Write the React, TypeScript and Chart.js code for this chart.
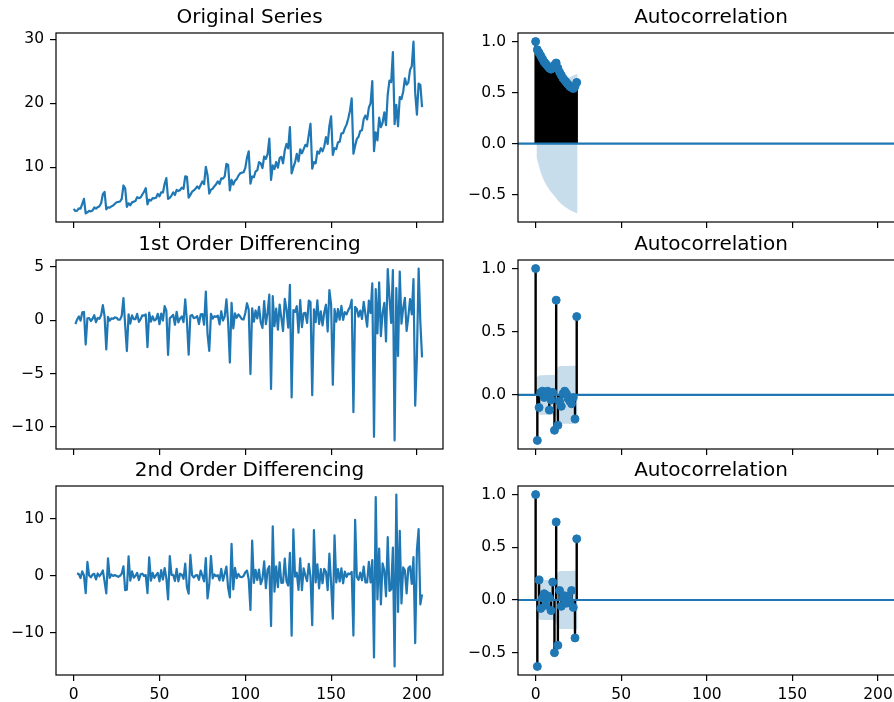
import React, { useEffect, useRef } from "react";
import { Chart, registerables } from "chart.js";

Chart.register(...registerables);

// ---------------- data ----------------
const originalSeries = [
  3.53, 3.18, 3.25, 3.61, 3.57, 4.31, 5.09, 2.81, 2.99, 3.2, 3.13, 3.27,
  3.74, 3.56, 3.78, 3.92, 4.39, 5.81, 6.19, 3.45, 3.77, 3.73, 3.91, 4.05,
  4.32, 4.56, 4.61, 4.67, 5.09, 7.18, 6.73, 3.84, 4.39, 4.08, 4.54, 4.65,
  4.75, 5.35, 5.2, 5.3, 5.77, 6.2, 6.75, 4.22, 4.95, 4.82, 5.19, 5.17,
  5.26, 5.86, 5.49, 6.12, 6.09, 7.42, 8.33, 5.07, 5.26, 5.6, 6.11, 5.69,
  6.49, 6.3, 6.47, 6.83, 6.65, 8.61, 8.52, 5.28, 5.71, 6.21, 6.41, 6.67,
  7.05, 6.7, 7.25, 7.82, 7.4, 10.1, 8.8, 5.92, 6.53, 6.68, 7.06, 7.38,
  7.81, 7.43, 8.28, 8.26, 8.6, 10.56, 10.39, 6.42, 8.06, 7.3, 7.94, 8.17,
  8.72, 9.07, 9.18, 9.25, 9.93, 11.53, 12.51, 7.46, 8.59, 8.47, 9.39, 9.56,
  10.83, 10.64, 9.91, 11.71, 11.34, 12.08, 14.5, 8.05, 10.31, 9.75, 10.85, 9.96,
  11.44, 11.66, 10.65, 12.65, 13.67, 12.97, 16.3, 9.05, 10.0, 10.79, 12.11, 10.95,
  12.84, 12.2, 12.85, 13.54, 13.29, 15.13, 16.83, 9.8, 10.82, 10.65, 12.51, 12.16,
  13.0, 12.52, 13.27, 14.73, 13.67, 16.5, 18.0, 11.94, 13.0, 12.88, 13.94, 13.99,
  15.34, 15.37, 16.14, 16.69, 17.64, 18.87, 20.78, 12.15, 13.4, 14.46, 14.8, 15.71,
  15.83, 17.55, 18.1, 17.5, 19.35, 20.03, 23.49, 12.54, 15.47, 14.23, 17.78, 16.29,
  16.98, 18.61, 16.62, 21.43, 23.58, 23.33, 28.04, 16.76, 19.79, 16.43, 21.0, 20.68,
  21.83, 23.93, 22.93, 23.26, 25.25, 25.81, 29.67, 21.65, 18.26, 23.11, 22.91, 19.43,
];

const firstDiff = [
  -0.35, 0.07, 0.36, -0.04, 0.74, 0.78, -2.28, 0.18, 0.21, -0.07, 0.14, 0.47,
  -0.18, 0.22, 0.14, 0.47, 1.42, 0.38, -2.74, 0.32, -0.04, 0.18, 0.14, 0.27,
  0.24, 0.05, 0.06, 0.42, 2.09, -0.45, -2.89, 0.55, -0.31, 0.46, 0.11, 0.1,
  0.6, -0.15, 0.1, 0.47, 0.43, 0.55, -2.53, 0.73, -0.13, 0.37, -0.02, 0.09,
  0.6, -0.37, 0.63, -0.03, 1.33, 0.91, -3.26, 0.19, 0.34, 0.51, -0.42, 0.8,
  -0.19, 0.17, 0.36, -0.18, 1.96, -0.09, -3.24, 0.43, 0.5, 0.2, 0.26, 0.38,
  -0.35, 0.55, 0.57, -0.42, 2.7, -1.3, -2.88, 0.61, 0.15, 0.38, 0.32, 0.43,
  -0.38, 0.85, -0.02, 0.34, 1.96, -0.17, -3.97, 1.64, -0.76, 0.64, 0.23, 0.55,
  0.35, 0.11, 0.07, 0.68, 1.6, 0.98, -5.05, 1.13, -0.12, 0.92, 0.17, 1.27,
  -0.19, -0.73, 1.8, -0.37, 0.74, 2.42, -6.45, 2.26, -0.56, 1.1, -0.89, 1.48,
  0.22, -1.01, 2.0, 1.02, -0.7, 3.33, -7.25, 0.95, 0.79, 1.32, -1.16, 1.89,
  -0.64, 0.65, 0.69, -0.25, 1.84, 1.7, -7.03, 1.02, -0.17, 1.86, -0.35, 0.84,
  -0.48, 0.75, 1.46, -1.06, 2.83, 1.5, -6.06, 1.06, -0.12, 1.06, 0.05, 1.35,
  0.03, 0.77, 0.55, 0.95, 1.23, 1.91, -8.63, 1.25, 1.06, 0.34, 0.91, 0.12,
  1.72, 0.55, -0.6, 1.85, 0.68, 3.46, -10.95, 2.93, -1.24, 3.55, -1.49, 0.69,
  1.63, -1.99, 4.81, 2.15, -0.25, 4.71, -11.28, 3.03, -3.36, 4.57, -0.32, 1.15,
  2.1, -1.0, 0.33, 1.99, 0.56, 3.86, -8.02, -3.39, 4.85, -0.2, -3.48,
];

const secondDiff = [
  0.42, 0.29, -0.4, 0.78, 0.04, -3.06, 2.46, 0.03, -0.28, 0.21, 0.33, -0.65,
  0.4, -0.08, 0.33, 0.95, -1.04, -3.12, 3.06, -0.36, 0.22, -0.04, 0.13, -0.03,
  -0.19, 0.01, 0.36, 1.67, -2.54, -2.44, 3.44, -0.86, 0.77, -0.35, -0.01, 0.5,
  -0.75, 0.25, 0.37, -0.04, 0.12, -3.08, 3.26, -0.86, 0.5, -0.39, 0.11, 0.51,
  -0.97, 1.0, -0.66, 1.36, -0.42, -4.17, 3.45, 0.15, 0.17, -0.93, 1.22, -0.99,
  0.36, 0.19, -0.54, 2.14, -2.05, -3.15, 3.67, 0.07, -0.3, 0.06, 0.12, -0.73,
  0.9, 0.02, -0.99, 3.12, -4.0, -1.58, 3.49, -0.46, 0.23, -0.06, 0.11, -0.81,
  1.23, -0.87, 0.36, 1.62, -2.13, -3.8, 5.61, -2.4, 1.4, -0.41, 0.32, -0.2,
  -0.24, -0.04, 0.61, 0.92, -0.62, -6.03, 6.18, -1.25, 1.04, -0.75, 1.1, -1.46,
  -0.54, 2.53, -2.17, 1.11, 1.68, -8.87, 8.71, -2.82, 1.66, -1.99, 2.37, -1.26,
  -1.23, 3.01, -0.98, -1.72, 4.03, -10.58, 8.2, -0.16, 0.53, -2.48, 3.05, -2.53,
  1.29, 0.04, -0.94, 2.09, -0.14, -8.73, 8.05, -1.19, 2.03, -2.21, 1.19, -1.32,
  1.23, 0.71, -2.52, 3.89, -1.33, -7.56, 7.12, -1.18, 1.18, -1.01, 1.3, -1.32,
  0.74, -0.22, 0.4, 0.28, 0.68, -10.54, 9.88, -0.19, -0.72, 0.57, -0.79, 1.6,
  -1.17, -1.15, 2.45, -1.17, 2.78, -14.41, 13.88, -4.17, 4.79, -5.04, 2.18, 0.94,
  -3.62, 6.8, -2.66, -2.4, 4.96, -15.99, 14.31, -6.39, 7.93, -4.89, 1.47, 0.95,
  -3.1, 1.33, 1.66, -1.43, 3.3, -11.88, 4.63, 8.24, -5.05, -3.28,
];

// index at which each series starts (pandas index kept after differencing)
const originalStart = 0;
const firstDiffStart = 1;
const secondDiffStart = 2;

const acfLags = [0, 1, 2, 3, 4, 5, 6, 7, 8, 9, 10, 11, 12, 13, 14, 15, 16, 17, 18, 19, 20, 21, 22, 23, 24];

const acfOriginal = [
  1.0, 0.92, 0.89, 0.86, 0.83, 0.8, 0.78, 0.76, 0.74, 0.73, 0.74, 0.77, 0.79,
  0.74, 0.7, 0.67, 0.64, 0.62, 0.6, 0.58, 0.56, 0.55, 0.54, 0.56, 0.6,
];
const acfFirstDiff = [
  1.0, -0.36, -0.1, 0.02, 0.03, -0.02, 0.01, 0.03, -0.12, -0.04, 0.02, -0.28, 0.75,
  -0.24, -0.05, -0.09, 0.01, 0.03, 0.01, -0.03, -0.05, -0.07, -0.02, -0.19, 0.62,
];
const acfSecondDiff = [
  1.0, -0.63, 0.19, -0.08, 0.02, 0.06, -0.05, 0.04, 0.02, -0.1, 0.17, -0.5, 0.74,
  -0.43, 0.09, -0.06, 0.02, 0.04, -0.03, 0.03, -0.02, 0.09, -0.07, -0.36, 0.58,
];

// half-width of the 95% confidence band for lags 1..24
const confOriginal = [
  0.137, 0.225, 0.284, 0.329, 0.367, 0.398, 0.426, 0.451, 0.473, 0.494, 0.514, 0.536,
  0.557, 0.575, 0.591, 0.605, 0.618, 0.629, 0.64, 0.65, 0.659, 0.668, 0.676, 0.684,
];
const confFirstDiff = [
  0.138, 0.154, 0.156, 0.156, 0.156, 0.157, 0.157, 0.157, 0.158, 0.158, 0.158, 0.167,
  0.222, 0.227, 0.228, 0.229, 0.229, 0.229, 0.229, 0.23, 0.23, 0.231, 0.231, 0.233,
];
const confSecondDiff = [
  0.138, 0.185, 0.188, 0.189, 0.189, 0.19, 0.19, 0.19, 0.19, 0.191, 0.194, 0.217,
  0.261, 0.274, 0.275, 0.275, 0.275, 0.276, 0.276, 0.276, 0.276, 0.277, 0.278, 0.283,
];

const xTicks = [0, 50, 100, 150, 200];
const yTicksOriginal = [10, 20, 30];
const yTicksFirstDiff = [-10, -5, 0, 5];
const yTicksSecondDiff = [-10, 0, 10];
const yTicksAcfOriginal = [-0.5, 0, 0.5, 1];
const yTicksAcfFirstDiff = [0, 0.5, 1];
const yTicksAcfSecondDiff = [-0.5, 0, 0.5, 1];

const titles = [
  "Original Series",
  "Autocorrelation",
  "1st Order Differencing",
  "Autocorrelation",
  "2nd Order Differencing",
  "Autocorrelation",
];

// ---------------- layout / style ----------------
const C0 = "#1f77b4";
const BAND = "rgba(31,119,180,0.25)";
const FONT = '"DejaVu Sans", "Liberation Sans", sans-serif';
const TICK_SIZE = 15.5;
const TITLE_SIZE = 20;
const X_MIN = -10.3;
const X_MAX = 215.2;
const AX_W = 387;
const AX_H = 189;
const PAD_L = 56;
const PAD_T = 34;
const PAD_R = 4;
const PAD_B = 34;
const COL_X = [56, 518];
const ROW_Y = [33, 260, 486];
const CW = PAD_L + AX_W + PAD_R;
const CH = PAD_T + AX_H + PAD_B;

const fmt = (v: number, d: number) =>
  (v < -1e-9 ? "\u2212" : "") + Math.abs(v).toFixed(d);

const framePlugin = {
  id: "frame",
  afterDatasetsDraw(chart: any) {
    const { ctx, chartArea: a } = chart;
    ctx.save();
    ctx.strokeStyle = "#000";
    ctx.lineWidth = 1.2;
    ctx.strokeRect(a.left, a.top, a.right - a.left, a.bottom - a.top);
    ctx.restore();
  },
  afterDraw(chart: any, _args: any, opts: any) {
    const { ctx, chartArea: a } = chart;
    ctx.save();
    ctx.fillStyle = "#000";
    ctx.font = `${TITLE_SIZE}px ${FONT}`;
    ctx.textAlign = "center";
    ctx.textBaseline = "alphabetic";
    ctx.fillText(opts.title || "", (a.left + a.right) / 2, a.top - 10);
    ctx.restore();
  },
};

type Panel = {
  col: number;
  row: number;
  title: string;
  kind: "line" | "acf";
  series?: number[];
  start?: number;
  acf?: number[];
  conf?: number[];
  yMin: number;
  yMax: number;
  yTicks: number[];
  dec: number;
  xLabels: boolean;
};

const panels: Panel[] = [
  { col: 0, row: 0, title: titles[0], kind: "line", series: originalSeries, start: originalStart, yMin: 1.47, yMax: 31.01, yTicks: yTicksOriginal, dec: 0, xLabels: false },
  { col: 1, row: 0, title: titles[1], kind: "acf", acf: acfOriginal, conf: confOriginal, yMin: -0.768, yMax: 1.084, yTicks: yTicksAcfOriginal, dec: 1, xLabels: false },
  { col: 0, row: 1, title: titles[2], kind: "line", series: firstDiff, start: firstDiffStart, yMin: -12.09, yMax: 5.66, yTicks: yTicksFirstDiff, dec: 0, xLabels: false },
  { col: 1, row: 1, title: titles[3], kind: "acf", acf: acfFirstDiff, conf: confFirstDiff, yMin: -0.428, yMax: 1.068, yTicks: yTicksAcfFirstDiff, dec: 1, xLabels: false },
  { col: 0, row: 2, title: titles[4], kind: "line", series: secondDiff, start: secondDiffStart, yMin: -17.5, yMax: 15.83, yTicks: yTicksSecondDiff, dec: 0, xLabels: true },
  { col: 1, row: 2, title: titles[5], kind: "acf", acf: acfSecondDiff, conf: confSecondDiff, yMin: -0.7115, yMax: 1.0815, yTicks: yTicksAcfSecondDiff, dec: 1, xLabels: true },
];

function buildDatasets(p: Panel): any[] {
  if (p.kind === "line") {
    const s = p.series || [];
    const start = p.start || 0;
    return [
      {
        data: s.map((y, i) => ({ x: start + i, y })),
        borderColor: C0,
        borderWidth: 2.2,
        pointRadius: 0,
        tension: 0,
        fill: false,
        borderJoinStyle: "round",
      },
    ];
  }
  const acf = p.acf || [];
  const conf = p.conf || [];
  const bandLags = acfLags.slice(1);
  const bandX = bandLags.map((l, i) =>
    i === 0 ? l - 0.5 : i === bandLags.length - 1 ? l + 0.5 : l
  );
  const stems: any[] = [];
  acfLags.forEach((l, i) => {
    stems.push({ x: l, y: 0 }, { x: l, y: acf[i] }, { x: l, y: null });
  });
  // index 0 is drawn on top, the last index at the bottom
  return [
    {
      data: acfLags.map((x, i) => ({ x, y: acf[i] })),
      showLine: false,
      pointRadius: 4,
      pointBorderWidth: 1,
      pointBackgroundColor: C0,
      pointBorderColor: C0,
      fill: false,
    },
    {
      data: [
        { x: X_MIN, y: 0 },
        { x: X_MAX, y: 0 },
      ],
      borderColor: C0,
      borderWidth: 2.2,
      pointRadius: 0,
      fill: false,
    },
    {
      data: stems,
      borderColor: "#000",
      borderWidth: 2.4,
      pointRadius: 0,
      spanGaps: false,
      fill: false,
    },
    {
      data: bandX.map((x, i) => ({ x, y: conf[i] })),
      borderColor: "rgba(0,0,0,0)",
      borderWidth: 0,
      pointRadius: 0,
      tension: 0,
      fill: "+1",
      backgroundColor: BAND,
    },
    {
      data: bandX.map((x, i) => ({ x, y: -conf[i] })),
      borderColor: "rgba(0,0,0,0)",
      borderWidth: 0,
      pointRadius: 0,
      tension: 0,
      fill: false,
    },
  ];
}

function buildConfig(p: Panel): any {
  const tickFont = { family: FONT, size: TICK_SIZE };
  const grid = {
    display: true,
    drawOnChartArea: false,
    drawTicks: true,
    tickLength: 6,
    tickWidth: 1.2,
    tickColor: "#000",
    color: "#000",
    lineWidth: 1.2,
  };
  return {
    type: "line",
    data: { datasets: buildDatasets(p) },
    plugins: [framePlugin],
    options: {
      responsive: false,
      animation: false,
      devicePixelRatio: 1,
      events: [],
      layout: { padding: { top: PAD_T, right: PAD_R, bottom: 0, left: 0 } },
      plugins: {
        legend: { display: false },
        tooltip: { enabled: false },
        title: { display: false },
        frame: { title: p.title },
      },
      scales: {
        x: {
          type: "linear",
          position: "bottom",
          min: X_MIN,
          max: X_MAX,
          afterFit: (s: any) => {
            s.height = PAD_B;
          },
          afterBuildTicks: (s: any) => {
            s.ticks = xTicks.map((v) => ({ value: v }));
          },
          grid,
          border: { display: false },
          ticks: {
            autoSkip: false,
            maxRotation: 0,
            minRotation: 0,
            padding: 5,
            color: "#000",
            font: tickFont,
            callback: (v: number) => (p.xLabels ? fmt(v, 0) : ""),
          },
        },
        y: {
          type: "linear",
          position: "left",
          min: p.yMin,
          max: p.yMax,
          afterFit: (s: any) => {
            s.width = PAD_L;
          },
          afterBuildTicks: (s: any) => {
            s.ticks = p.yTicks.map((v) => ({ value: v }));
          },
          grid,
          border: { display: false },
          ticks: {
            autoSkip: false,
            padding: 6,
            color: "#000",
            font: tickFont,
            callback: (v: number) => fmt(v, p.dec),
          },
        },
      },
    },
  };
}

function PanelChart({ p }: { p: Panel }) {
  const ref = useRef<HTMLCanvasElement | null>(null);
  useEffect(() => {
    if (!ref.current) return;
    const chart = new Chart(ref.current, buildConfig(p));
    return () => chart.destroy();
  }, [p]);
  return (
    <canvas
      ref={ref}
      width={CW}
      height={CH}
      style={{
        position: "absolute",
        left: COL_X[p.col] - PAD_L,
        top: ROW_Y[p.row] - PAD_T,
        width: CW,
        height: CH,
      }}
    />
  );
}

export default function App() {
  return (
    <div
      style={{
        position: "fixed",
        left: 0,
        top: 0,
        width: "100vw",
        height: "100vh",
        overflow: "hidden",
        background: "#fff",
      }}
    >
      {panels.map((p, i) => (
        <PanelChart key={i} p={p} />
      ))}
    </div>
  );
}
